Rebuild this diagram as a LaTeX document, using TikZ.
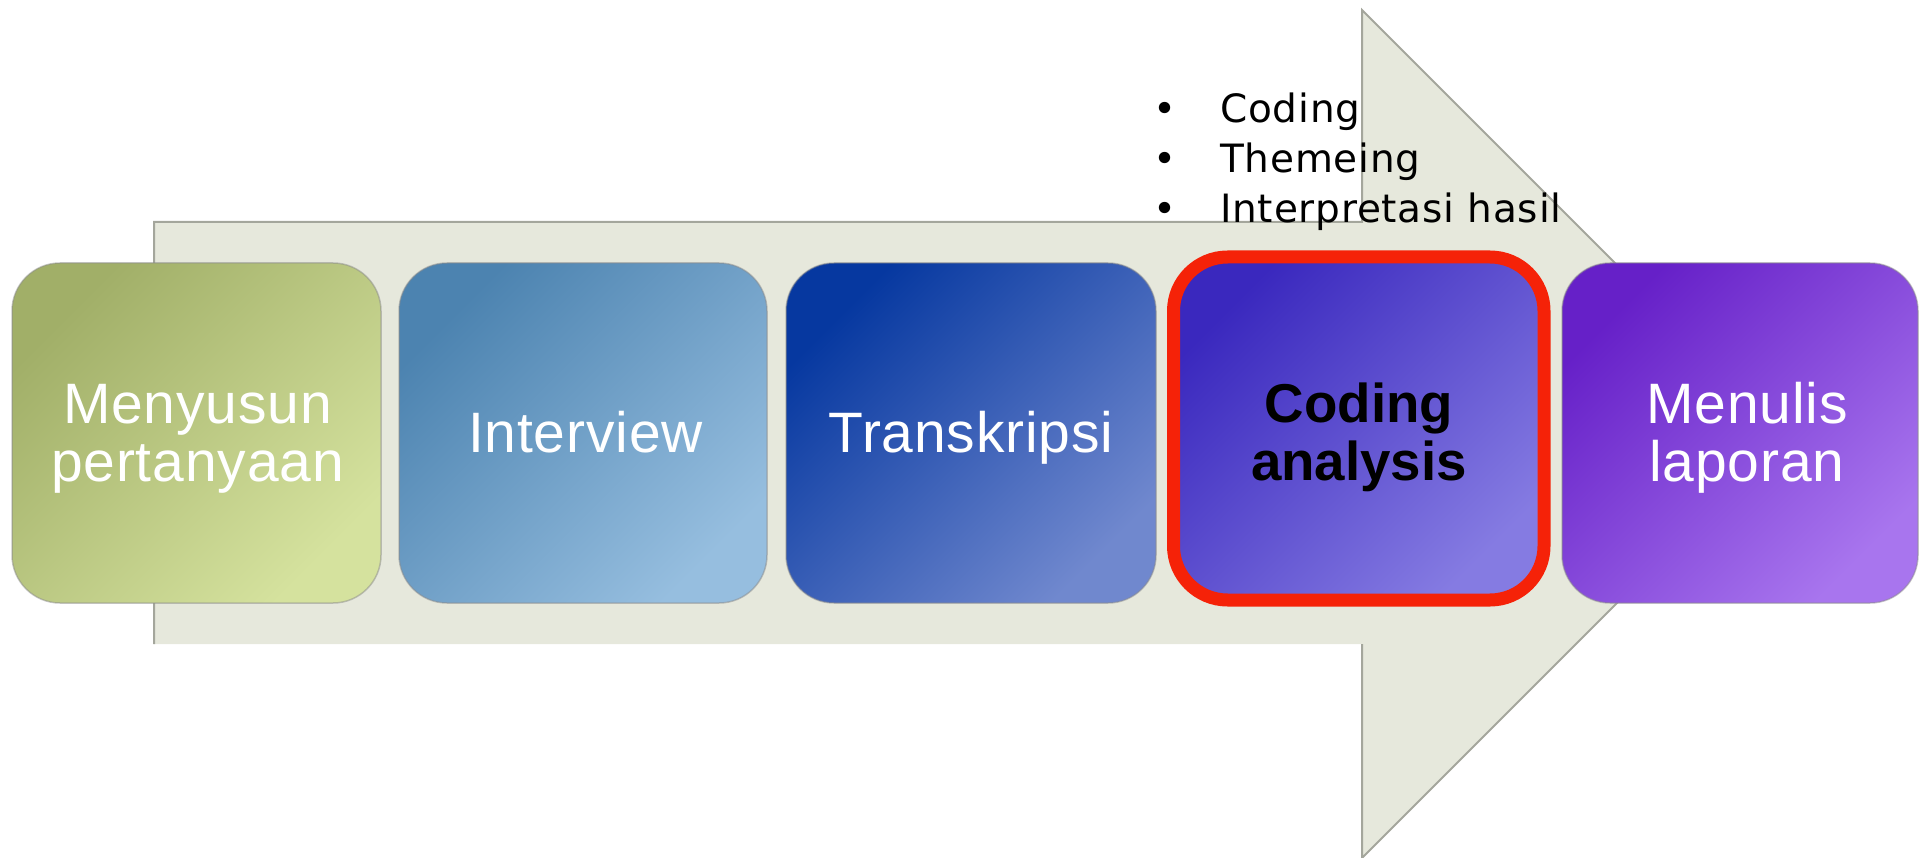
\documentclass[tikz,border=0pt]{standalone}
\usepackage{fontspec}
\setmainfont{Liberation Sans}[LetterSpace=1.5]
\newfontfamily\bulletfont{DejaVu Sans}[LetterSpace=2]
\newfontfamily\boldlab{Liberation Sans Bold}
\definecolor{arrowfill}{HTML}{E6E8DC}
\definecolor{arrowedge}{HTML}{A4A69C}
\definecolor{gA}{HTML}{A1AF68}\definecolor{gB}{HTML}{D5E29E}
\definecolor{bA}{HTML}{4C83B0}\definecolor{bB}{HTML}{96BEDF}
\definecolor{nA}{HTML}{0638A0}\definecolor{nB}{HTML}{7088CE}
\definecolor{vA}{HTML}{3A28BE}\definecolor{vB}{HTML}{857BE2}
\definecolor{pA}{HTML}{6620C8}\definecolor{pB}{HTML}{A875EE}
\definecolor{redb}{HTML}{F52208}
\begin{document}
\begin{tikzpicture}[x=1pt,y=-1pt,
  stepbox/.style 2 args={rounded corners=48pt, minimum height=340pt, inner sep=0pt,
    top color=#1, bottom color=#2, shading angle=45,
    draw=black!45, draw opacity=0.5, line width=1.5pt},
  lab/.style={anchor=base, text=white, inner sep=0pt,
    font=\fontsize{57}{58}\selectfont},
  edge/.style={draw=arrowedge, line width=2pt, line join=miter}]
\useasboundingbox (0,0) rectangle (1921,858);
% big background arrow
\fill[arrowfill] (154,222) -- (1362,222) -- (1362,10) -- (1786,434) -- (1362,858)
  -- (1362,644) -- (154,644) -- cycle;
\draw[edge] (154,644) -- (154,222) -- (1362,222) -- (1362,10) -- (1786,434) -- (1362,858) -- (1362,644);
% bullet list
\node[anchor=base west, inner sep=0pt, font=\bulletfont\fontsize{39}{50}\selectfont] (list) at (1153.6,123)
  {\begin{tabular}[t]{@{}l@{}}\makebox[66.4pt][l]{•}Coding\\
   \makebox[66.4pt][l]{•}Themeing\\
   \makebox[66.4pt][l]{•}Interpretasi hasil\end{tabular}};
% boxes
\node[stepbox={gA}{gB}, minimum width=369pt] (b1) at (196.5,433) {};
\node[stepbox={bA}{bB}, minimum width=368pt] (b2) at (583,433) {};
\node[stepbox={nA}{nB}, minimum width=370pt] (b3) at (971,433) {};
\node[stepbox={vA}{vB}, minimum width=370.5pt, minimum height=343pt,
  draw=redb, draw opacity=1, line width=13pt, rounded corners=54pt] (b4) at (1358.75,428.5) {};
\node[stepbox={pA}{pB}, minimum width=356pt] (b5) at (1740,433) {};
% labels
\node[lab] (t1) at (197.5,423) {\begin{tabular}[t]{@{}c@{}}Menyusun\\pertanyaan\end{tabular}};
\node[lab] (t2) at (585.5,452) {Interview};
\node[lab] (t3) at (971,452) {Transkripsi};
\node[lab, text=black, font=\boldlab\fontsize{54.7}{58}\selectfont] (t4) at (1359,422)
  {\begin{tabular}[t]{@{}c@{}}Coding\\analysis\end{tabular}};
\node[lab] (t5) at (1747,423) {\begin{tabular}[t]{@{}c@{}}Menulis\\laporan\end{tabular}};
\end{tikzpicture}
\end{document}
